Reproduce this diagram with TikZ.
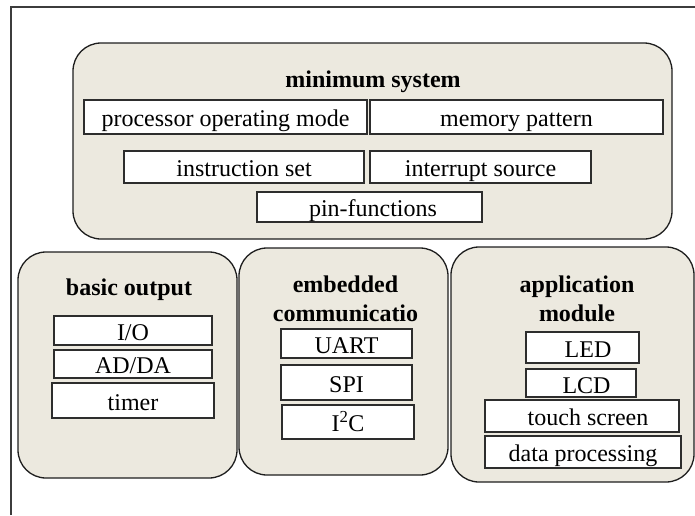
\documentclass[tikz,border=0pt]{standalone}
\usepackage{fontspec}
\setmainfont{Liberation Serif}
\definecolor{beige}{RGB}{236,233,223}
\definecolor{edge}{RGB}{30,30,30}
\definecolor{iedge}{RGB}{45,45,45}
\tikzset{
  bigbox/.style={draw=edge, line width=1.3pt, fill=beige, rounded corners=28pt, inner sep=0pt, outer sep=0pt},
  ibox/.style={draw=iedge, line width=1.5pt, fill=white, inner sep=0pt, outer sep=0pt,
    text height=20pt, text depth=1pt, font=\fontsize{24}{29}\selectfont},
  ttl/.style={anchor=base, inner sep=0pt, font=\fontsize{24}{29}\selectfont\bfseries},
  frameline/.style={draw={rgb,255:red,60;green,60;blue,60}, line width=1.1pt}
}
\begin{document}
\begin{tikzpicture}[x=1pt,y=-1pt]
\useasboundingbox (0,0) rectangle (695,515);
\draw[frameline] (11,515) -- (11,7) -- (695,7);

% minimum system
\node[bigbox, minimum width=599pt, minimum height=196pt] (minsys) at (372.5,141) {};
\node[ttl] (minsysT) at (373,87) {minimum system};
\node[ibox, minimum width=283pt, minimum height=34pt] (proc) at (225.5,117) {processor operating mode};
\node[ibox, minimum width=293pt, minimum height=34pt] (mem) at (516.5,117) {memory pattern};
\node[ibox, minimum width=240pt, minimum height=32pt] (instr) at (244,167) {instruction set};
\node[ibox, minimum width=221pt, minimum height=32pt] (intr) at (480.5,167) {interrupt source};
\node[ibox, minimum width=225pt, minimum height=30pt] (pin) at (369.5,207) {\hspace*{7pt}pin-functions};

% basic output
\node[bigbox, minimum width=219pt, minimum height=226pt] (basic) at (127.5,365) {};
\node[ttl] (basicT) at (129,295) {basic output};
\node[ibox, minimum width=158pt, minimum height=29pt] (io) at (133,330.5) {I/O};
\node[ibox, minimum width=158pt, minimum height=28pt] (adda) at (133,364) {AD/DA};
\node[ibox, minimum width=162pt, minimum height=35pt] (timer) at (133,400.5) {timer};

% embedded communication
\node[bigbox, minimum width=209pt, minimum height=227pt] (emb) at (343.5,361.5) {};
\node[ttl] (embT1) at (345.5,292) {embedded};
\node[ttl] (embT2) at (345.5,321) {communicatio};
\node[ibox, minimum width=131pt, minimum height=29pt] (uart) at (346.5,343.5) {UART};
\node[ibox, minimum width=131pt, minimum height=35pt] (spi) at (346.5,382.5) {SPI};
\node[ibox, minimum width=132pt, minimum height=34pt] (iic) at (348,422) {I\textsuperscript{2}C};

% application module
\node[bigbox, minimum width=243pt, minimum height=235pt] (app) at (572.5,364.5) {};
\node[ttl] (appT1) at (577,292) {application};
\node[ttl] (appT2) at (577,321) {module};
\node[ibox, minimum width=113pt, minimum height=31pt] (led) at (582.5,347.5) {\hspace*{11pt}LED};
\node[ibox, minimum width=110pt, minimum height=28pt, text height=22pt] (lcd) at (581,383) {\hspace*{11pt}LCD};
\node[ibox, minimum width=194pt, minimum height=32pt] (touch) at (582,416) {\hspace*{12pt}touch screen};
\node[ibox, minimum width=196pt, minimum height=32pt] (data) at (583,452) {data processing};
\end{tikzpicture}
\end{document}
